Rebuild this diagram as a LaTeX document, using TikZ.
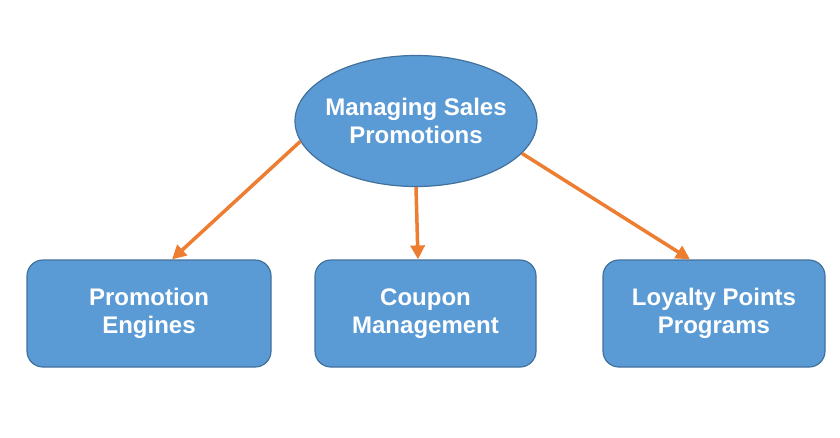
\documentclass[tikz,border=0pt]{standalone}
\usepackage{fontspec}
\setmainfont{Liberation Sans}
\usetikzlibrary{shapes.geometric,arrows.meta}

\begin{document}
\begin{tikzpicture}[x=1pt, y=-1pt]
% Promotion chart, sized in pixels of the original slide
\definecolor{promoFill}{HTML}{5B9BD5}
\definecolor{promoLine}{HTML}{41719C}
\definecolor{promoArrow}{HTML}{ED7D31}
\providecommand{\promoFont}{\bfseries\fontsize{24}{28.5}\selectfont}
\providecommand{\promoBoxHeight}{107pt}
\tikzset{
  topic/.style={ellipse, fill=promoFill, draw=promoLine, line width=1.2pt,
    minimum width=242pt, minimum height=131pt, inner xsep=-8pt, inner ysep=0pt,
    align=center, text=white, font=\promoFont},
  leaf/.style={rectangle, rounded corners=16pt, fill=promoFill, draw=promoLine,
    line width=1.2pt, minimum height=\promoBoxHeight, inner sep=0pt,
    align=center, text=white, font=\promoFont},
  link/.style={draw=promoArrow, line width=3.5pt,
    -{Triangle[length=14pt, width=14pt]}}
}
\useasboundingbox (0,0) rectangle (840,437);
% Top topic
\node[topic] (sales) at (416,121) {Managing Sales\\Promotions};
% Leaves
\node[leaf, minimum width=244pt] (engines) at (149,313.5) {Promotion\\Engines};
\node[leaf, minimum width=221pt] (coupon) at (425.5,313.5) {Coupon\\Management};
\node[leaf, minimum width=222pt] (loyalty) at (714,313.5) {Loyalty Points\\Programs};
% Arrows
\draw[link] (sales.190) -- ([xshift=23pt]engines.north);
\draw[link] (sales.south) -- ([xshift=-7.5pt]coupon.north);
\draw[link] (sales.343) -- ([xshift=-24pt]loyalty.north);
\end{tikzpicture}
\end{document}
